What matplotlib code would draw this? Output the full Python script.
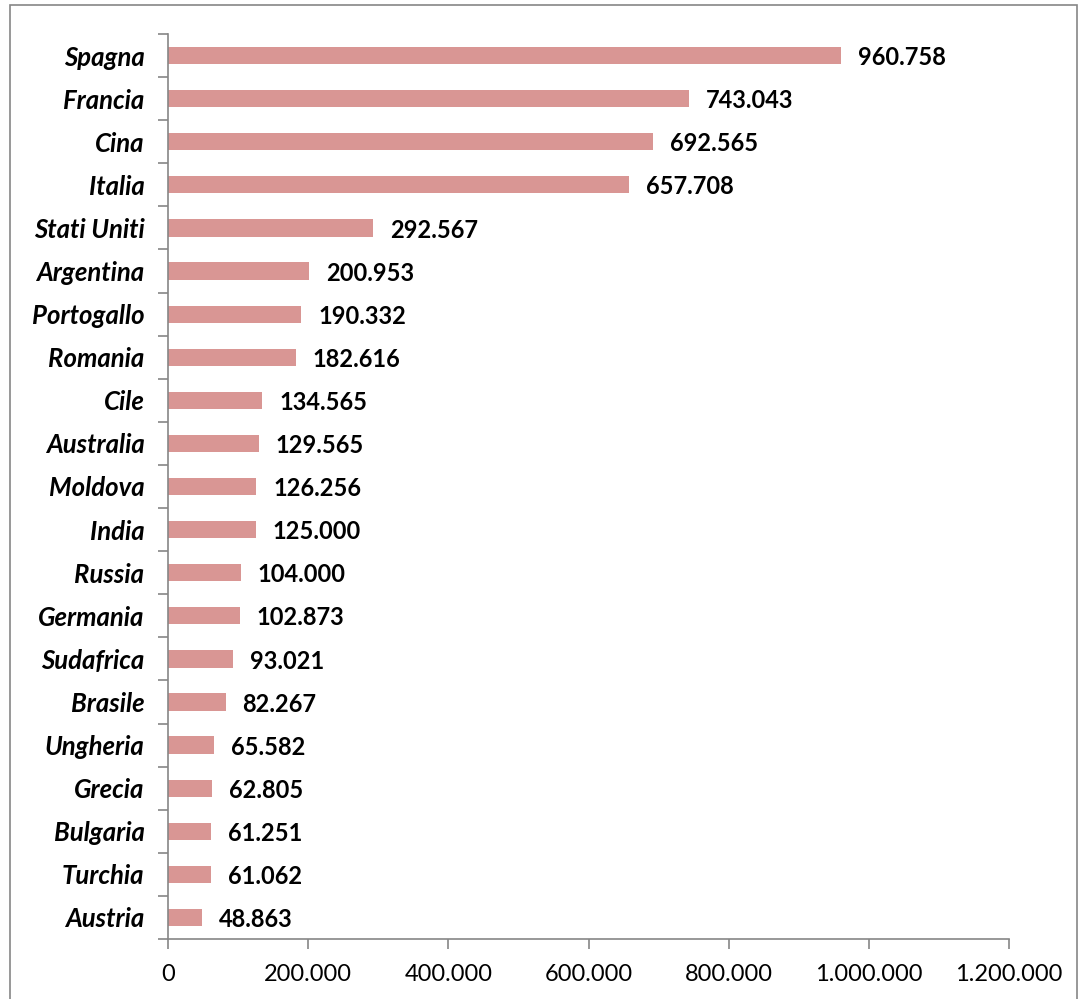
import numpy as np
from matplotlib import pyplot as plt
from matplotlib.patches import Rectangle
from matplotlib.ticker import FuncFormatter, FixedLocator

countries = ['Spagna', 'Francia', 'Cina', 'Italia', 'Stati Uniti', 'Argentina',
             'Portogallo', 'Romania', 'Cile', 'Australia', 'Moldova', 'India',
             'Russia', 'Germania', 'Sudafrica', 'Brasile', 'Ungheria', 'Grecia',
             'Bulgaria', 'Turchia', 'Austria']
values = [960758, 743043, 692565, 657708, 292567, 200953, 190332, 182616,
          134565, 129565, 126256, 125000, 104000, 102873, 93021, 82267,
          65582, 62805, 61251, 61062, 48863]
xticks = [0, 200000, 400000, 600000, 800000, 1000000, 1200000]

plt.rcParams['font.family'] = ['Lato', 'DejaVu Sans']

def dots(v, pos=None):
    return f'{int(v):,}'.replace(',', '.')

W, H = 1079, 999
fig = plt.figure(figsize=(W / 100, H / 100), dpi=100)
ax = fig.add_axes([168 / W, 1 - 939 / H, (1009 - 168) / W, (939 - 34) / H])

n = len(countries)
y = np.arange(n)[::-1]
ax.barh(y, values, height=0.4, color='#D99694')
for yi, v in zip(y, values):
    ax.text(v + 24000, yi - 0.05, dots(v), va='center', ha='left',
            fontsize=17, fontweight='bold')

ax.set_xlim(0, 1200000)
ax.set_ylim(-0.5, n - 0.5)
ax.set_xticks(xticks)
ax.xaxis.set_major_formatter(FuncFormatter(dots))
ax.tick_params(axis='x', length=7, width=1.2, color='#868686',
               labelsize=17, pad=11)

ax.yaxis.set_major_locator(FixedLocator(np.arange(-0.5, n, 1)))
ax.yaxis.set_minor_locator(FixedLocator(y))
ax.set_yticklabels([])
ax.set_yticklabels(countries, minor=True, fontsize=18.5,
                   fontweight='bold', style='italic')
ax.tick_params(axis='y', which='major', length=7, width=1.2, color='#868686')
ax.tick_params(axis='y', which='minor', length=0, pad=17)

for s in ['top', 'right']:
    ax.spines[s].set_visible(False)
for s in ['left', 'bottom']:
    ax.spines[s].set_color('#868686')
    ax.spines[s].set_linewidth(1.2)

fig.patches.append(Rectangle((10 / W, -0.05), (1077 - 10) / W, 1.05 - 5 / H,
                             transform=fig.transFigure, fill=False,
                             edgecolor='#868686', linewidth=1.2))

plt.savefig('out.png', dpi=100)
